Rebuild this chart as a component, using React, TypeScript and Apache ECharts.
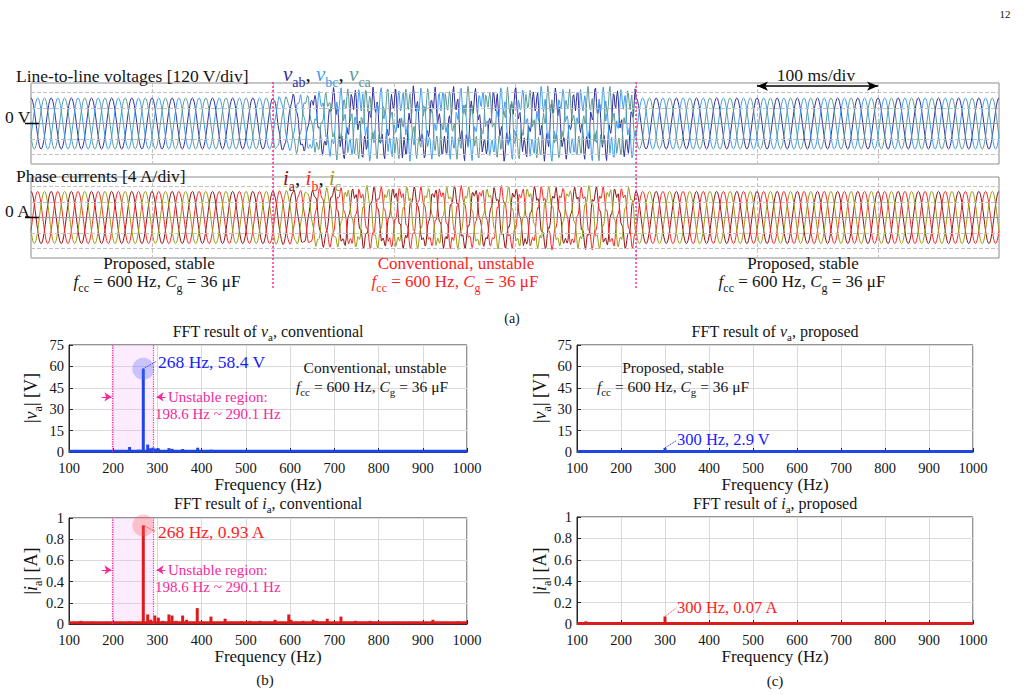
import React, { useEffect, useRef } from 'react';
import * as echarts from 'echarts';

const SERIF = '"Liberation Serif", "Times New Roman", serif';

/* ---------------- (a) oscilloscope data ---------------- */
const SCOPE_MS = 800;
const SCOPE_DIV_MS = 100;
const UNSTABLE_FROM_MS = 200;
const UNSTABLE_TO_MS = 500;
const CYCLE_MS = 1000 / 60;
// one 60 Hz cycle, 24 samples, normalised
const COS_CYCLE = [1, 0.97, 0.87, 0.71, 0.5, 0.26, 0, -0.26, -0.5, -0.71, -0.87, -0.97, -1, -0.97, -0.87, -0.71, -0.5, -0.26, 0, 0.26, 0.5, 0.71, 0.87, 0.97];
const PHASE_LAG = [0, 8, 16]; // samples (120 deg)
const LL_VOLTAGE_PEAK = 198; // V
const PHASE_CURRENT_PEAK = 6.7; // A
const V_RIPPLE_PEAK = 100; // V
const I_RIPPLE_PEAK = 1.6; // A
// 268 Hz oscillation read from the unstable window (normalised, per sample)
const RIPPLE_SHAPE = [0.9, 0.2, -0.7, -0.95, -0.1, 0.75, 0.8, -0.3, -1, -0.6, 0.35, 1, 0.4, -0.55, -0.9, 0.05, 0.85, 0.6, -0.45, -1, -0.2, 0.7, 0.95, 0, -0.8, -0.7, 0.3, 0.95, 0.5, -0.6, -0.85, 0.15, 0.9, 0.45, -0.5, -0.95, 0.1];
const RIPPLE_LAG_V = [0, 12, 25];
const RIPPLE_LAG_I = [4, 17, 29];
// ripple strength per 60 Hz cycle (48 cycles = 800 ms)
const RIPPLE_ENVELOPE = [
  0, 0, 0, 0, 0, 0, 0, 0, 0, 0, 0, 0,
  0.15, 0.35, 0.6, 0.85, 1, 0.9, 1, 0.85, 1, 0.95, 0.8, 1, 0.9, 1, 0.85, 1, 0.95, 0.9,
  0, 0, 0, 0, 0, 0, 0, 0, 0, 0, 0, 0, 0, 0, 0, 0, 0, 0,
];
const V_AXIS_RANGE = 314;
const I_AXIS_RANGE = 10.4;
const V_DIV_LINES = [-240, -120, 120, 240];
const I_DIV_LINES = [-8, -4, 4, 8];
const VOLTAGE_NAMES = ['vab', 'vbc', 'vca'];
const CURRENT_NAMES = ['ia', 'ib', 'ic'];
const VOLTAGE_COLORS = ['#2f2f9c', '#3c9ef2', '#5c9a96'];
const CURRENT_COLORS = ['#8e1414', '#ff2626', '#9c9c16'];

/* ---------------- (b)(c) FFT data ---------------- */
const FREQ_MIN = 100;
const FREQ_MAX = 1000;
const FREQ_STEP = 100;
const UNSTABLE_BAND_HZ = [198.6, 290.1];
const CONV_V_SPECTRUM = [[112, 0.7], [125, 0.9], [140, 0.6], [155, 0.8], [170, 0.6], [180, 1.1], [192, 0.8], [210, 0.9], [222, 1.0], [237, 3.5], [248, 1.2], [258, 1.6], [268, 58.4], [278, 5.2], [284, 2.6], [290, 3.1], [296, 2.4], [302, 2.6], [312, 1.4], [326, 2.7], [333, 2.2], [342, 1.3], [357, 2.1], [366, 1.3], [380, 1.0], [391, 3.0], [405, 1.0], [421, 1.6], [436, 0.9], [452, 1.2], [470, 0.8], [490, 0.8], [510, 0.9], [532, 0.8], [566, 1.0], [598, 1.4], [630, 0.8], [652, 0.9], [685, 0.9], [715, 1.0], [748, 0.7], [780, 0.8], [830, 0.6], [880, 0.6], [925, 0.8], [960, 0.6], [985, 0.7]];
const CONV_V_FLOOR = [[100, 0.6], [1000, 0.6]];
const CONV_I_SPECTRUM = [[110, 0.015], [127, 0.03], [140, 0.015], [152, 0.022], [170, 0.012], [185, 0.018], [200, 0.015], [222, 0.012], [238, 0.025], [252, 0.015], [268, 0.93], [278, 0.09], [285, 0.04], [294, 0.08], [302, 0.06], [312, 0.03], [326, 0.09], [333, 0.08], [342, 0.03], [357, 0.08], [366, 0.04], [378, 0.02], [390, 0.15], [405, 0.02], [421, 0.07], [436, 0.02], [453, 0.05], [470, 0.02], [490, 0.025], [509, 0.03], [520, 0.02], [532, 0.03], [550, 0.02], [566, 0.04], [580, 0.02], [597, 0.09], [602, 0.04], [615, 0.02], [629, 0.03], [652, 0.04], [660, 0.03], [672, 0.02], [684, 0.05], [700, 0.02], [715, 0.07], [730, 0.02], [748, 0.03], [765, 0.02], [781, 0.03], [800, 0.02], [820, 0.015], [840, 0.02], [860, 0.015], [880, 0.02], [900, 0.015], [923, 0.04], [940, 0.02], [960, 0.015], [980, 0.025], [995, 0.015]];
const CONV_I_FLOOR = [[100, 0.012], [1000, 0.012]];
const PROP_V_SPECTRUM = [[120, 0.5], [180, 0.4], [240, 0.4], [300, 2.9], [360, 0.4], [420, 0.4], [480, 0.4], [600, 0.5], [720, 0.3], [840, 0.3]];
const PROP_V_FLOOR = [[100, 0.4], [1000, 0.4]];
const PROP_I_SPECTRUM = [[120, 0.025], [180, 0.01], [240, 0.012], [300, 0.07], [360, 0.012], [420, 0.012], [480, 0.016], [540, 0.008], [600, 0.018], [660, 0.007], [720, 0.006], [780, 0.005], [840, 0.006], [900, 0.004], [960, 0.005]];
const PROP_I_FLOOR = [[100, 0.005], [1000, 0.005]];
const CONV_V_PEAK = [268, 58.4];
const CONV_I_PEAK = [268, 0.93];
const PROP_V_PEAK = [300, 2.9];
const PROP_I_PEAK = [300, 0.07];

/* ---------------- layout ---------------- */
const SCOPE = { left: 31, width: 968, vTop: 83, iTop: 177, height: 81 };
const FFT_L = { left: 69, width: 398 };
const FFT_R = { left: 577, width: 396 };
const FFT_TOP = { top: 345, height: 107 };
const FFT_BOT = { top: 518, height: 106 };

const BLUE_BAR = '#1f46e4';
const BLUE_TXT = '#1c1cff';
const RED_BAR = '#dc1c1c';
const RED_TXT = '#ff1c1c';
const PINK = '#f7289c';
const INK = '#141414';
const SCOPE_FONT = 17.5;
const LABEL_FONT = 17;
const NOTE_FONT = 15.5;

function buildTrace(peak: number, ripple: number, phase: number, rippleLag: number) {
  const n = COS_CYCLE.length;
  const total = RIPPLE_ENVELOPE.length * n;
  const pts: number[][] = [];
  for (let idx = 0; idx <= total; idx++) {
    const c = Math.min(Math.floor(idx / n), RIPPLE_ENVELOPE.length - 1);
    const k = idx % n;
    const base = peak * COS_CYCLE[(k - PHASE_LAG[phase] + n) % n];
    const r = ripple * RIPPLE_ENVELOPE[c] * RIPPLE_SHAPE[(idx + rippleLag) % RIPPLE_SHAPE.length];
    pts.push([(idx * CYCLE_MS) / n, +(base + r).toFixed(2)]);
  }
  return pts;
}

function rs(p: string, size: number, color: string) {
  const lh = size + 4;
  return {
    [p + 'n']: { fontFamily: SERIF, fontSize: size, fill: color, lineHeight: lh },
    [p + 'i']: { fontFamily: SERIF, fontSize: size, fill: color, fontStyle: 'italic', lineHeight: lh },
    [p + 's']: { fontFamily: SERIF, fontSize: Math.round(size * 0.68), fill: color, height: 8, verticalAlign: 'bottom' },
  };
}

function txt(text: string, x: number, y: number, size: number, color: string, align = 'left', extra: any = {}, rich: any = null) {
  return {
    type: 'text', x, y, z: 100, silent: true, ...extra,
    style: {
      text, rich: rich || rs('', size, color), fill: color,
      font: `${size}px ${SERIF}`, align, verticalAlign: 'middle',
    },
  };
}

const FCC_CG = '{i|f}{s|cc}{n| = 600 Hz, }{i|C}{s|g}{n| = 36 μF}';

function fftX(gridIndex: number) {
  return {
    gridIndex, type: 'value', min: FREQ_MIN, max: FREQ_MAX, interval: FREQ_STEP,
    axisLine: { show: true, onZero: false, lineStyle: { color: '#262626', width: 1 } },
    axisTick: { show: true, inside: true, length: 4, lineStyle: { color: '#262626' } },
    axisLabel: { show: true, margin: 8, fontFamily: SERIF, fontSize: 14.5, color: INK, formatter: (v: number) => String(v) },
    splitLine: { show: true, lineStyle: { color: '#dadada', width: 1 } },
    name: 'Frequency (Hz)', nameLocation: 'middle', nameGap: 20,
    nameTextStyle: { fontFamily: SERIF, fontSize: 17, color: INK },
  };
}
function fftY(gridIndex: number, max: number, interval: number) {
  return {
    gridIndex, type: 'value', min: 0, max, interval,
    axisLine: { show: true, lineStyle: { color: '#262626', width: 1 } },
    axisTick: { show: true, inside: true, length: 4, lineStyle: { color: '#262626' } },
    axisLabel: { show: true, margin: 5, fontFamily: SERIF, fontSize: 14.5, color: INK, formatter: (v: number) => String(+v.toFixed(2)) },
    splitLine: { show: true, lineStyle: { color: '#dadada', width: 1 } },
  };
}
function scopeX(gridIndex: number) {
  return {
    gridIndex, type: 'value', min: 0, max: SCOPE_MS, interval: SCOPE_DIV_MS,
    axisLine: { show: false }, axisTick: { show: false }, axisLabel: { show: false },
    splitLine: { show: true, lineStyle: { color: '#c2c2c2', type: 'dashed', width: 1 } },
  };
}
function scopeY(gridIndex: number, range: number) {
  return {
    gridIndex, type: 'value', min: -range, max: range,
    axisLine: { show: false }, axisTick: { show: false }, axisLabel: { show: false },
    splitLine: { show: false },
  };
}

function fftSeries(idx: number, color: string, spectrum: number[][], floor: number[][], extra: any) {
  return [
    {
      type: 'bar', xAxisIndex: idx, yAxisIndex: idx, data: spectrum, barWidth: 3,
      itemStyle: { color }, z: 3, ...extra,
    },
    {
      type: 'line', xAxisIndex: idx, yAxisIndex: idx, data: floor, showSymbol: false,
      lineStyle: { color, width: 3 }, z: 4, silent: true,
    },
  ];
}

function unstableMarks(arrowY: number, leaderFrom: number[], leaderTo: number[], leaderColor: string, haloColor: string) {
  const solidPink = { type: 'solid', color: PINK, width: 1 };
  const dottedPink = { type: 'dotted', color: PINK, width: 1.2 };
  return {
    markArea: {
      silent: true, itemStyle: { color: 'rgba(245,160,245,0.2)' },
      data: [[{ xAxis: UNSTABLE_BAND_HZ[0] }, { xAxis: UNSTABLE_BAND_HZ[1] }]],
    },
    markLine: {
      silent: true, symbol: 'none', label: { show: false },
      lineStyle: dottedPink,
      data: [
        { xAxis: UNSTABLE_BAND_HZ[0], lineStyle: dottedPink },
        { xAxis: UNSTABLE_BAND_HZ[1], lineStyle: dottedPink },
        [{ coord: [174, arrowY], symbol: 'none', lineStyle: solidPink }, { coord: [196, arrowY], symbol: 'arrow', symbolSize: 7 }],
        [{ coord: [318, arrowY], symbol: 'none', lineStyle: solidPink }, { coord: [298, arrowY], symbol: 'arrow', symbolSize: 7 }],
        [{ coord: leaderFrom, lineStyle: { type: 'dotted', color: leaderColor, width: 1 } }, { coord: leaderTo }],
      ],
    },
    markPoint: {
      silent: true, symbol: 'circle', symbolSize: 22, label: { show: false },
      itemStyle: { color: haloColor },
      data: [{ coord: leaderFrom }],
    },
  };
}

function leaderOnly(from: number[], to: number[], color: string) {
  return {
    markLine: {
      silent: true, symbol: 'none', label: { show: false },
      data: [[{ coord: from, lineStyle: { type: 'dotted', color, width: 1 } }, { coord: to }]],
    },
  };
}

export default function App() {
  const ref = useRef<HTMLDivElement>(null);
  useEffect(() => {
    if (!ref.current) return;
    const chart = echarts.init(ref.current, null, { renderer: 'svg' });

    const vSeries = VOLTAGE_NAMES.map((name, p) => ({
      name, type: 'line', xAxisIndex: 0, yAxisIndex: 0, showSymbol: false, silent: true,
      data: buildTrace(LL_VOLTAGE_PEAK, V_RIPPLE_PEAK, p, RIPPLE_LAG_V[p]),
      lineStyle: { color: VOLTAGE_COLORS[p], width: 1 }, z: 3,
    }));
    const iSeries = CURRENT_NAMES.map((name, p) => ({
      name, type: 'line', xAxisIndex: 1, yAxisIndex: 1, showSymbol: false, silent: true,
      data: buildTrace(PHASE_CURRENT_PEAK, I_RIPPLE_PEAK, p, RIPPLE_LAG_I[p]),
      lineStyle: { color: CURRENT_COLORS[p], width: 1 }, z: 3,
    }));
    const divLines = (vals: number[]) => [
      ...vals.map((v) => ({ yAxis: v, lineStyle: { type: 'dashed', color: '#c2c2c2', width: 1 } })),
      { yAxis: 0, lineStyle: { type: 'solid', color: '#9a9a9a', width: 1 } },
    ];
    const scopeGuides = [
      {
        type: 'line', xAxisIndex: 0, yAxisIndex: 0, data: [], silent: true, z: 2,
        markLine: {
          silent: true, symbol: 'none', label: { show: false },
          data: [
            ...divLines(V_DIV_LINES),
            [{ coord: [600, 290], symbol: 'arrow', symbolSize: [7, 11], lineStyle: { type: 'solid', color: '#000', width: 1.5 } },
             { coord: [700, 290], symbol: 'arrow', symbolSize: [7, 11] }],
          ],
        },
      },
      {
        type: 'line', xAxisIndex: 1, yAxisIndex: 1, data: [], silent: true, z: 2,
        markLine: { silent: true, symbol: 'none', label: { show: false }, data: divLines(I_DIV_LINES) },
      },
    ];

    const xOf = (ms: number) => SCOPE.left + (ms / SCOPE_MS) * SCOPE.width;
    const scopeMagenta = [UNSTABLE_FROM_MS, UNSTABLE_TO_MS].map((ms) => ({
      type: 'line', z: 100, silent: true,
      shape: { x1: xOf(ms), y1: 82, x2: xOf(ms), y2: 289 },
      style: { stroke: '#ff2f9a', lineWidth: 1.5, lineDash: [2, 2] },
    }));

    const LEG = 21;
    const vLegendRich = { ...rs('a', LEG, VOLTAGE_COLORS[0]), ...rs('b', LEG, VOLTAGE_COLORS[1]), ...rs('c', LEG, VOLTAGE_COLORS[2]), ...rs('k', LEG, INK) };
    const iLegendRich = { ...rs('a', LEG, CURRENT_COLORS[0]), ...rs('b', LEG, CURRENT_COLORS[1]), ...rs('c', LEG, CURRENT_COLORS[2]), ...rs('k', LEG, INK) };

    const graphic = [
      txt('{n|12}', 1005, 14, 11, INK, 'center'),
      txt('{n|Line-to-line voltages [120 V/div]}', 16, 76, SCOPE_FONT, INK),
      txt('{ai|v}{as|ab}{kn|, }{bi|v}{bs|bc}{kn|, }{ci|v}{cs|ca}', 283, 74, LEG, INK, 'left', {}, vLegendRich),
      txt('{n|100 ms/div}', 816, 75, SCOPE_FONT, INK, 'center'),
      txt('{n|0 V}', 5, 117, SCOPE_FONT, INK),
      { type: 'line', z: 100, silent: true, shape: { x1: 25, y1: 123.5, x2: 39, y2: 123.5 }, style: { stroke: '#000', lineWidth: 1.5 } },
      txt('{n|Phase currents [4 A/div]}', 16, 176, SCOPE_FONT, INK),
      txt('{ai|i}{as|a}{kn|, }{bi|i}{bs|b}{kn|, }{ci|i}{cs|c}', 283, 178, LEG, INK, 'left', {}, iLegendRich),
      txt('{n|0 A}', 5, 211, SCOPE_FONT, INK),
      { type: 'line', z: 100, silent: true, shape: { x1: 25, y1: 217.5, x2: 39, y2: 217.5 }, style: { stroke: '#000', lineWidth: 1.5 } },
      ...scopeMagenta,
      txt('{n|Proposed, stable}', 159, 263.5, LABEL_FONT, INK, 'center'),
      txt(FCC_CG, 157, 281.5, LABEL_FONT, INK, 'center'),
      txt('{n|Conventional, unstable}', 456, 263.5, LABEL_FONT, '#ff1c1c', 'center'),
      txt(FCC_CG, 455, 281.5, LABEL_FONT, '#ff1c1c', 'center'),
      txt('{n|Proposed, stable}', 803, 263.5, LABEL_FONT, INK, 'center'),
      txt(FCC_CG, 802, 281.5, LABEL_FONT, INK, 'center'),
      txt('{n|(a)}', 512, 318, 14, INK, 'center'),

      // FFT titles
      txt('{n|FFT result of }{i|v}{s|a}{n|, conventional}', 268, 331, 16, INK, 'center'),
      txt('{n|FFT result of }{i|i}{s|a}{n|, conventional}', 268, 503, 16, INK, 'center'),
      txt('{n|FFT result of }{i|v}{s|a}{n|, proposed}', 775, 331, 16, INK, 'center'),
      txt('{n|FFT result of }{i|i}{s|a}{n|, proposed}', 775, 503, 16, INK, 'center'),
      // y names
      txt('{n||}{i|v}{s|a}{n|| [V]}', 31, 398, 18, INK, 'center', { rotation: Math.PI / 2 }),
      txt('{n||}{i|i}{s|a}{n|| [A]}', 31, 571, 18, INK, 'center', { rotation: Math.PI / 2 }),
      txt('{n||}{i|v}{s|a}{n|| [V]}', 540, 398, 18, INK, 'center', { rotation: Math.PI / 2 }),
      txt('{n||}{i|i}{s|a}{n|| [A]}', 540, 571, 18, INK, 'center', { rotation: Math.PI / 2 }),
      // annotations (b)
      txt('{n|268 Hz, 58.4 V}', 158, 362, 17.5, BLUE_TXT),
      txt('{n|Unstable region:}', 168, 396.5, 15, PINK),
      txt('{n|198.6 Hz ~ 290.1 Hz}', 155, 413.5, 15, PINK),
      txt('{n|Conventional, unstable}', 375, 367, NOTE_FONT, INK, 'center'),
      txt(FCC_CG, 372, 386, NOTE_FONT, INK, 'center'),
      txt('{n|268 Hz, 0.93 A}', 158, 532, 17.5, RED_TXT),
      txt('{n|Unstable region:}', 168, 569.5, 15, PINK),
      txt('{n|198.6 Hz ~ 290.1 Hz}', 155, 587, 15, PINK),
      // annotations (c)
      txt('{n|Proposed, stable}', 673, 367, NOTE_FONT, INK, 'center'),
      txt(FCC_CG, 673, 386, NOTE_FONT, INK, 'center'),
      txt('{n|300 Hz, 2.9 V}', 677, 439, 16.5, BLUE_TXT),
      txt('{n|300 Hz, 0.07 A}', 677, 607, 16.5, RED_TXT),
      txt('{n|(b)}', 265, 680, 15, INK, 'center'),
      txt('{n|(c)}', 775, 681, 15, INK, 'center'),
    ];

    const option: any = {
      animation: false,
      backgroundColor: '#ffffff',
      grid: [
        { left: SCOPE.left, top: SCOPE.vTop, width: SCOPE.width, height: SCOPE.height, show: true, borderColor: '#8c8c8c', borderWidth: 1, backgroundColor: 'transparent' },
        { left: SCOPE.left, top: SCOPE.iTop, width: SCOPE.width, height: SCOPE.height, show: true, borderColor: '#8c8c8c', borderWidth: 1, backgroundColor: 'transparent' },
        { left: FFT_L.left, top: FFT_TOP.top, width: FFT_L.width, height: FFT_TOP.height, show: true, borderColor: '#262626', borderWidth: 1 },
        { left: FFT_L.left, top: FFT_BOT.top, width: FFT_L.width, height: FFT_BOT.height, show: true, borderColor: '#262626', borderWidth: 1 },
        { left: FFT_R.left, top: FFT_TOP.top, width: FFT_R.width, height: FFT_TOP.height, show: true, borderColor: '#262626', borderWidth: 1 },
        { left: FFT_R.left, top: FFT_BOT.top - 1, width: FFT_R.width, height: FFT_BOT.height + 1, show: true, borderColor: '#262626', borderWidth: 1 },
      ],
      xAxis: [scopeX(0), scopeX(1), fftX(2), fftX(3), fftX(4), fftX(5)],
      yAxis: [
        scopeY(0, V_AXIS_RANGE), scopeY(1, I_AXIS_RANGE),
        fftY(2, 75, 15), fftY(3, 1, 0.2), fftY(4, 75, 15), fftY(5, 1, 0.2),
      ],
      series: [
        ...scopeGuides,
        ...vSeries,
        ...iSeries,
        ...fftSeries(2, BLUE_BAR, CONV_V_SPECTRUM, CONV_V_FLOOR,
          unstableMarks(38.6, CONV_V_PEAK, [297, 63.5], BLUE_TXT, 'rgba(90,110,255,0.32)')),
        ...fftSeries(3, RED_BAR, CONV_I_SPECTRUM, CONV_I_FLOOR,
          unstableMarks(0.51, CONV_I_PEAK, [296, 0.87], RED_TXT, 'rgba(255,90,90,0.3)')),
        ...fftSeries(4, BLUE_BAR, PROP_V_SPECTRUM, PROP_V_FLOOR, leaderOnly(PROP_V_PEAK, [326, 8], BLUE_TXT)),
        ...fftSeries(5, RED_BAR, PROP_I_SPECTRUM, PROP_I_FLOOR, leaderOnly(PROP_I_PEAK, [326, 0.15], RED_TXT)),
      ],
      graphic,
    };
    chart.setOption(option);
    return () => chart.dispose();
  }, []);

  return (
    <div
      ref={ref}
      style={{ position: 'fixed', left: 0, top: 0, width: 1024, height: 695, background: '#fff' }}
    />
  );
}
